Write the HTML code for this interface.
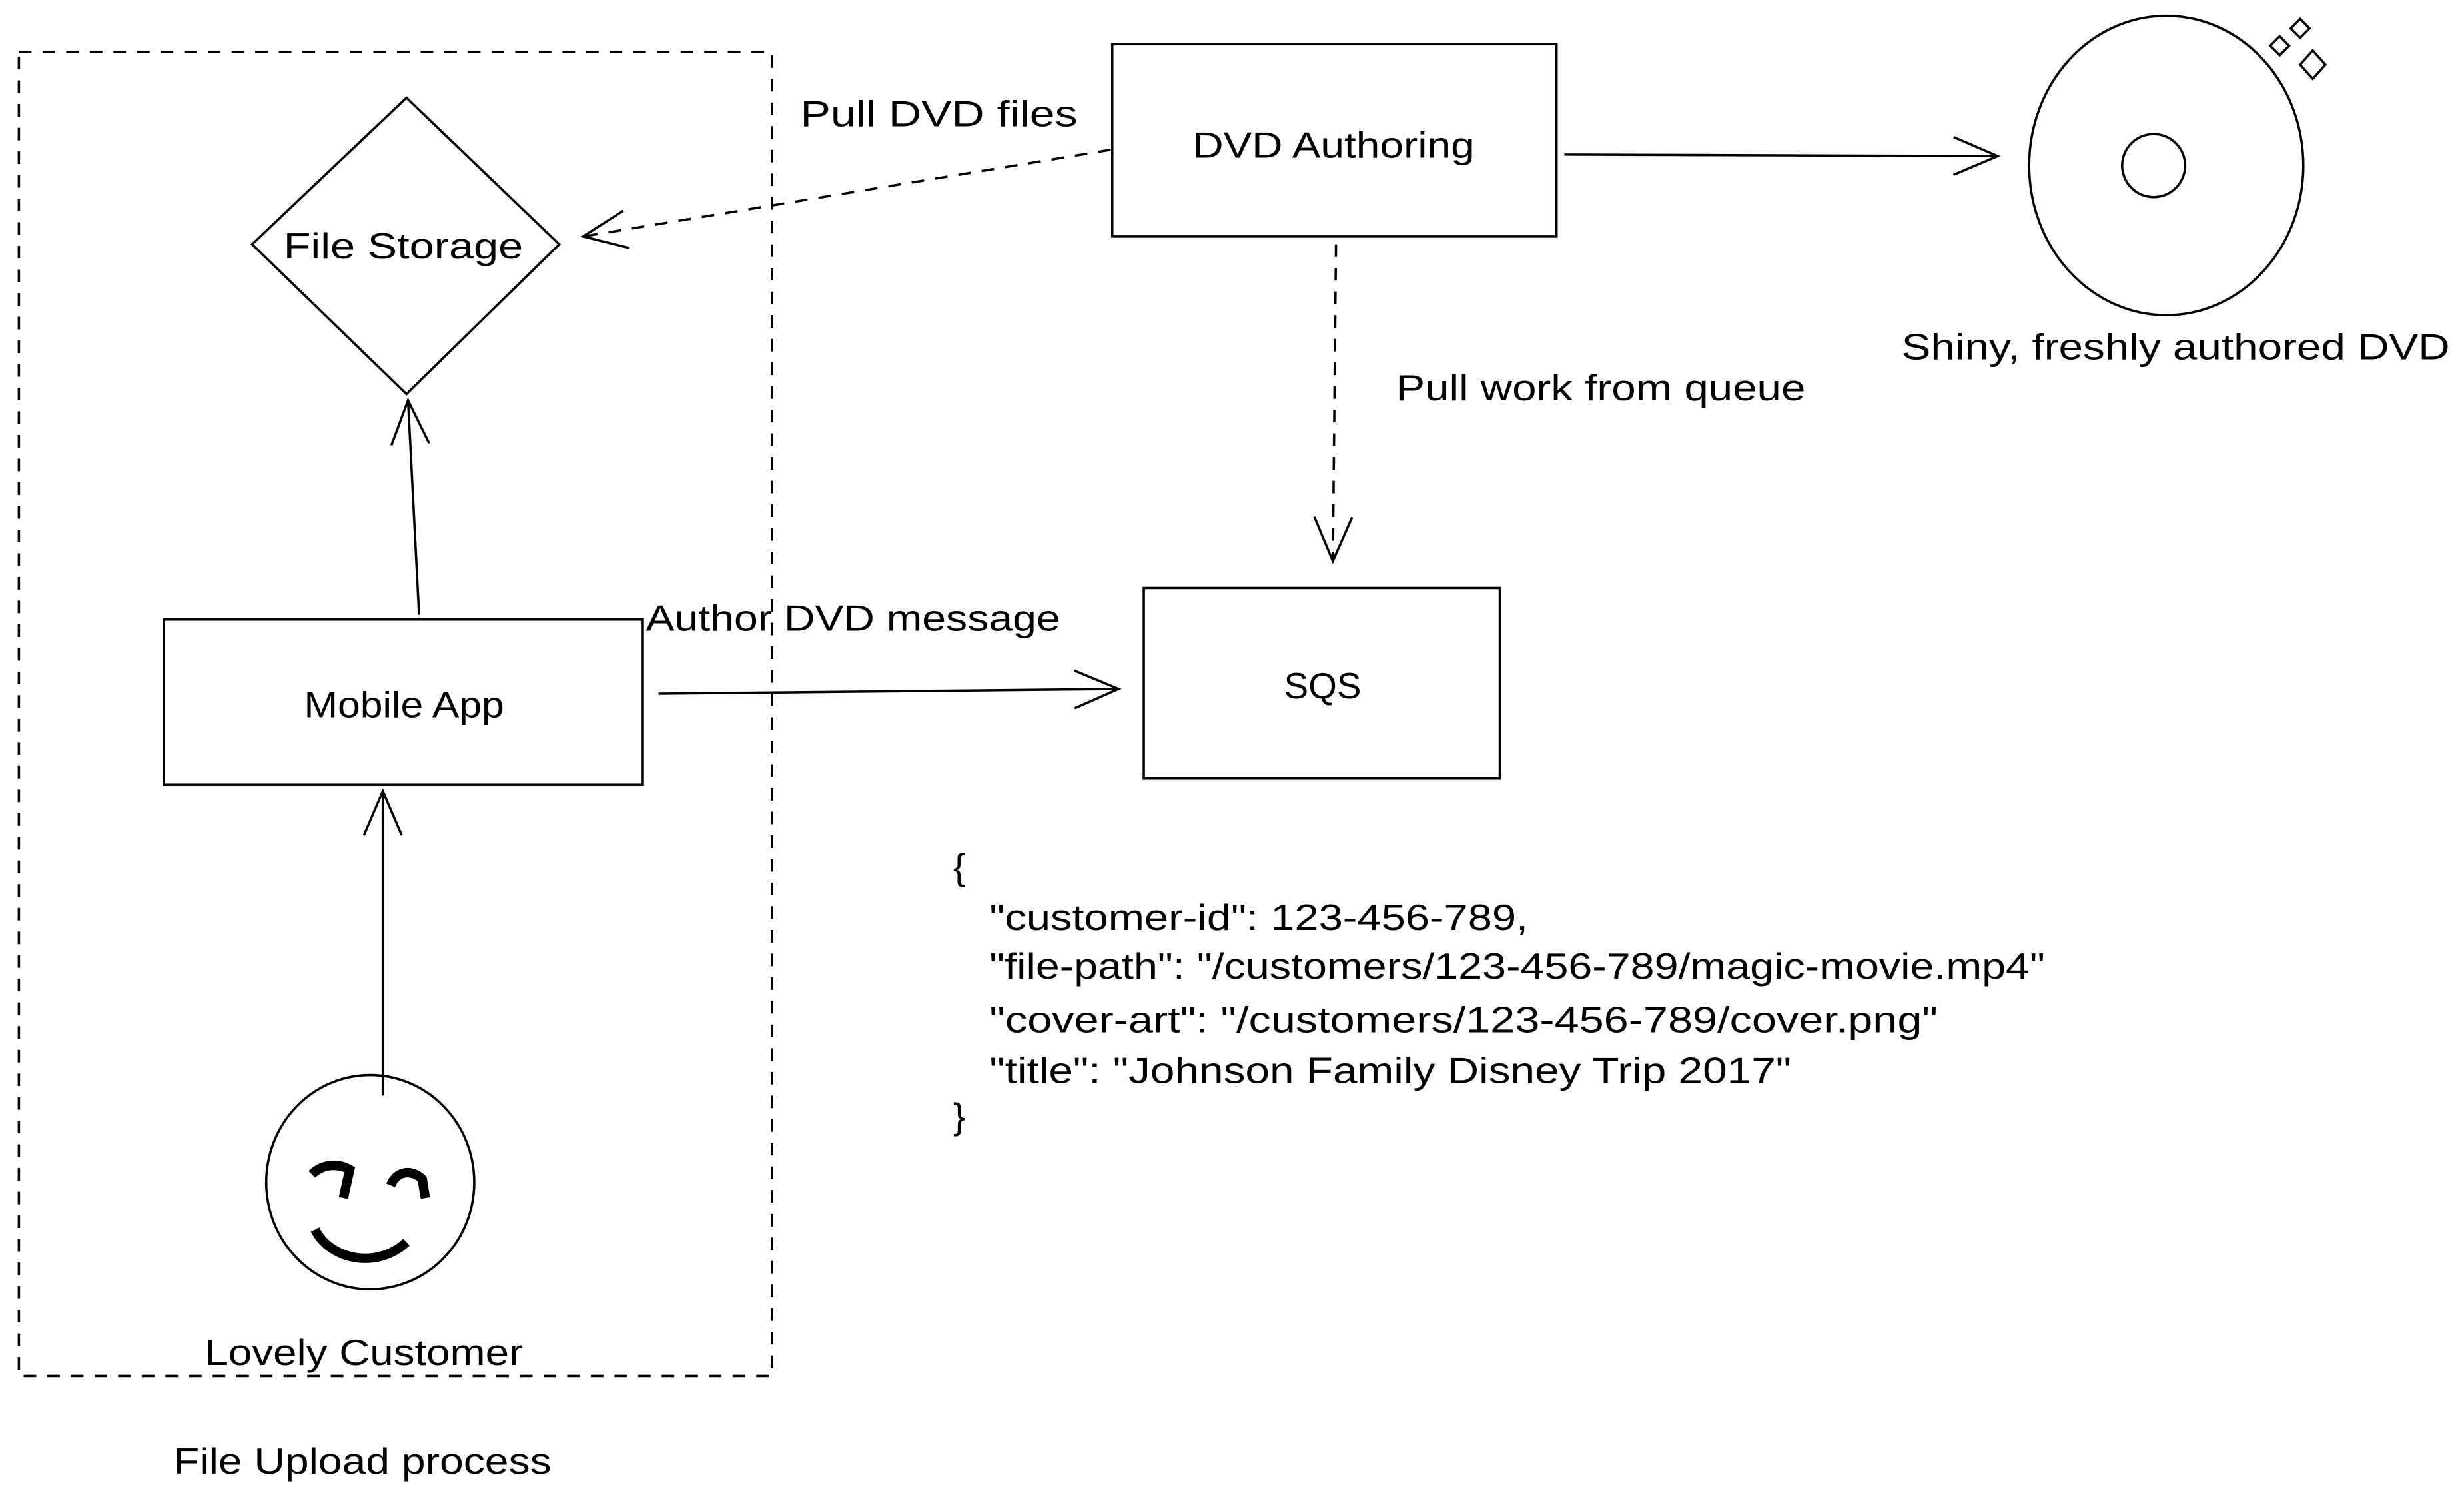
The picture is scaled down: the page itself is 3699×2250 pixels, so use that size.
<!DOCTYPE html>
<html><head><meta charset="utf-8"><style>html,body{margin:0;padding:0;background:#fff}svg{display:block}</style></head>
<body>
<svg width="3699" height="2250" viewBox="0 0 1564 951" preserveAspectRatio="none" xmlns="http://www.w3.org/2000/svg">
<defs>
<marker id="a" markerWidth="40" markerHeight="30" refX="30" refY="15" orient="auto" markerUnits="userSpaceOnUse">
<path d="M2,3 L30,15 L2,27" fill="none" stroke="#000" stroke-width="1.5"/>
</marker>
</defs>
<g fill="none" stroke="#000" stroke-width="1.5">
<rect x="12" y="33" width="478" height="840" stroke-dasharray="8,7"/>
<polygon points="258,62 355,155 258,250 160,155"/>
<rect x="104" y="393" width="304" height="105"/>
<line x1="266" y1="390" x2="259" y2="254" marker-end="url(#a)"/>
<line x1="243" y1="695" x2="243" y2="502" marker-end="url(#a)"/>
<ellipse cx="235" cy="750" rx="66" ry="68"/>
<path d="M198,745 C205,738 215,738 222,742 L218,760" stroke-width="6"/>
<path d="M248,752 C252,742 262,742 268,748 L270,760" stroke-width="6"/>
<path d="M200,780 C210,800 240,805 258,788" stroke-width="6"/>
<rect x="706" y="28" width="282" height="122"/>
<line x1="705" y1="95" x2="370" y2="150" stroke-dasharray="8,7" marker-end="url(#a)"/>
<line x1="993" y1="98" x2="1268" y2="99" marker-end="url(#a)"/>
<ellipse cx="1375" cy="105" rx="87" ry="95"/>
<circle cx="1367" cy="105" r="20"/>
<polygon points="1460,12 1466,18 1460,24 1454,18"/>
<polygon points="1447,23 1453,29 1447,35 1441,29"/>
<polygon points="1468,32 1476,41 1468,50 1460,41"/>
<line x1="848" y1="155" x2="846" y2="356" stroke-dasharray="8,7" marker-end="url(#a)"/>
<rect x="726" y="373" width="226" height="121"/>
<line x1="418" y1="440" x2="710" y2="437" marker-end="url(#a)"/>
</g>
<g font-family="Liberation Sans, sans-serif" font-size="23" fill="#000" lengthAdjust="spacingAndGlyphs">
<text x="180" y="164" textLength="152" lengthAdjust="spacingAndGlyphs">File Storage</text>
<text x="193" y="455" textLength="127" lengthAdjust="spacingAndGlyphs">Mobile App</text>
<text x="130" y="866" textLength="202" lengthAdjust="spacingAndGlyphs">Lovely Customer</text>
<text x="110" y="935" textLength="240" lengthAdjust="spacingAndGlyphs">File Upload process</text>
<text x="757" y="100" textLength="179" lengthAdjust="spacingAndGlyphs">DVD Authoring</text>
<text x="508" y="80" textLength="176" lengthAdjust="spacingAndGlyphs">Pull DVD files</text>
<text x="1207" y="228" textLength="348" lengthAdjust="spacingAndGlyphs">Shiny, freshly authored DVD</text>
<text x="886" y="254" textLength="260" lengthAdjust="spacingAndGlyphs">Pull work from queue</text>
<text x="815" y="443" textLength="49" lengthAdjust="spacingAndGlyphs">SQS</text>
<text x="410" y="400" textLength="263" lengthAdjust="spacingAndGlyphs">Author DVD message</text>
<text x="605" y="558">{</text>
<text x="628" y="590" textLength="342" lengthAdjust="spacingAndGlyphs">"customer-id": 123-456-789,</text>
<text x="628" y="621" textLength="670" lengthAdjust="spacingAndGlyphs">"file-path": "/customers/123-456-789/magic-movie.mp4"</text>
<text x="628" y="655" textLength="602" lengthAdjust="spacingAndGlyphs">"cover-art": "/customers/123-456-789/cover.png"</text>
<text x="628" y="687" textLength="509" lengthAdjust="spacingAndGlyphs">"title": "Johnson Family Disney Trip 2017"</text>
<text x="605" y="716">}</text>
</g>
</svg>
</body></html>
